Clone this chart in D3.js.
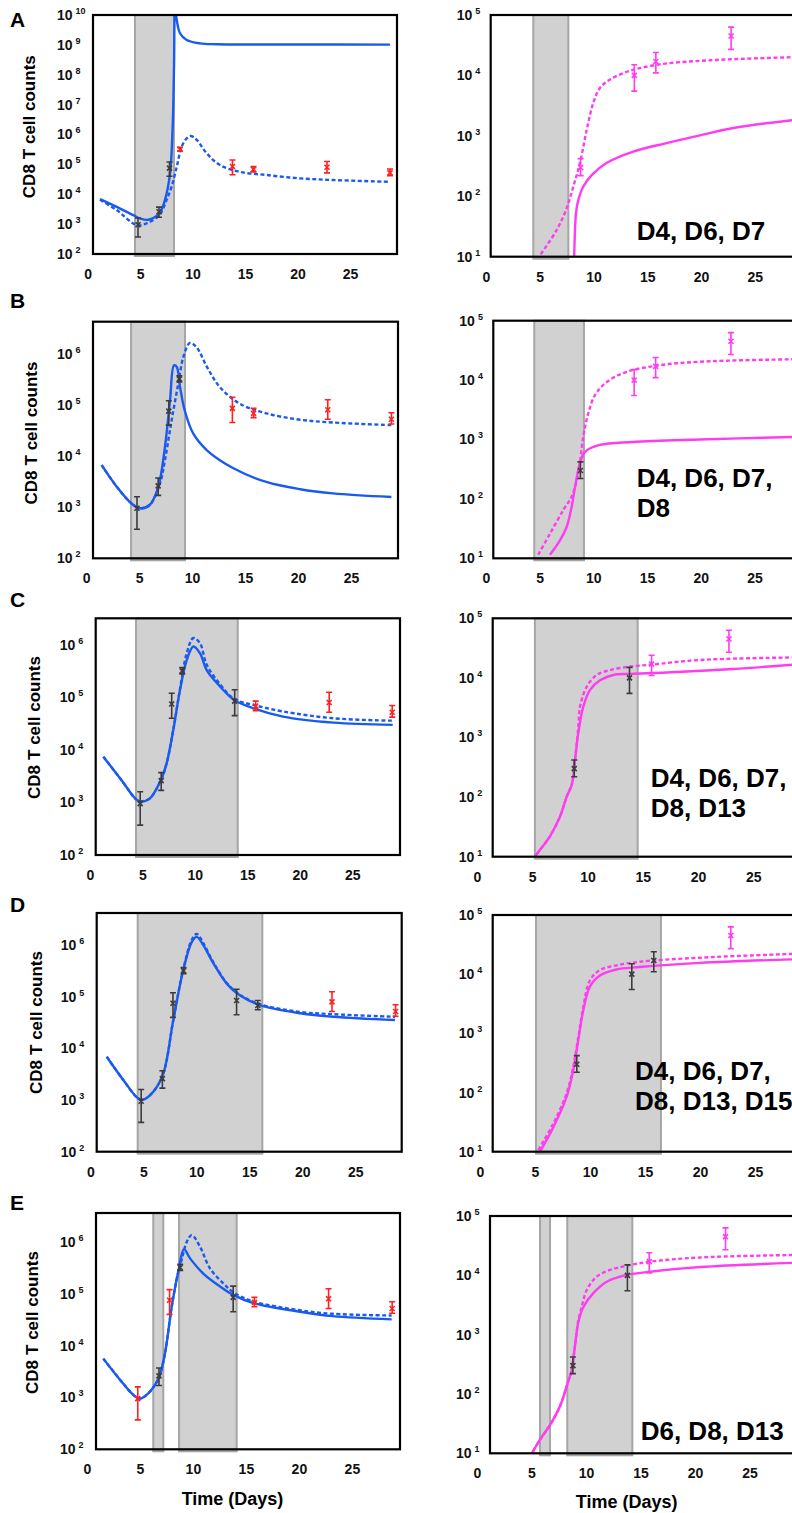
<!DOCTYPE html>
<html>
<head>
<meta charset="utf-8">
<script src="https://cdn.jsdelivr.net/npm/d3@7"></script>
<style>
  body { margin: 0; background: #fff; }
  text { font-family: "Liberation Sans", Arial, Helvetica, sans-serif; font-weight: bold; }
</style>
</head>
<body>
<div id="chart"></div>
<script>
// measured days and CD8 T cell counts (effector, left column)
const dayLabels = ['D4', 'D6', 'D7', 'D8', 'D13', 'D15', 'D22', 'D28'];
const dataDays = [4.8, 6.8, 7.8, 8.8, 13.8, 15.8, 22.8, 28.8];
const effMean = [950, 2600, 7.5e4, 3.2e5, 8.5e4, 6.8e4, 8e4, 5.2e4];
const effLow = [370, 1700, 4e4, 2.8e5, 4.5e4, 5.6e4, 5.2e4, 4.2e4];
const effHigh = [1600, 3700, 1.2e5, 3.7e5, 1.4e5, 8.5e4, 1.25e5, 7e4];

// memory cells (right column)
const memLabels = ['D8', 'D13', 'D15', 'D22'];
const memDays = [8.8, 13.8, 15.8, 22.8];
const memMean = [300, 1e4, 1.7e4, 4.5e4];
const memLow = [220, 5.5e3, 1.1e4, 2.7e4];
const memHigh = [420, 1.5e4, 2.4e4, 6.3e4];

// data used for fitting in each row
const fitA = ['D4', 'D6', 'D7'];
const fitB = ['D4', 'D6', 'D7', 'D8'];
const fitC = ['D4', 'D6', 'D7', 'D8', 'D13'];
const fitD = ['D4', 'D6', 'D7', 'D8', 'D13', 'D15'];
const fitE = ['D6', 'D8', 'D13'];

// shaded fitting windows (days)
const shadeLeft = { A: [[4.51, 8.23]], B: [[4.24, 9.33]], C: [[4.4, 14.09]], D: [[4.47, 16.23]], E: [[6.26, 7.21], [8.69, 14.13]] };
const shadeRight = { A: [[4.4, 7.66]], B: [[4.51, 9.13]], C: [[5.24, 14.54]], D: [[5.09, 16.45]], E: [[5.78, 6.7], [8.28, 14.25]] };

const xTicks = [0, 5, 10, 15, 20, 25];
const leftTicksA = [1e2, 1e3, 1e4, 1e5, 1e6, 1e7, 1e8, 1e9, 1e10];
const leftTicks = [1e2, 1e3, 1e4, 1e5, 1e6];
const rightTicks = [1e1, 1e2, 1e3, 1e4, 1e5];

// model curves [day, count]
const aLeftSolid = [[1.18, 6.9e3], [2.77, 3.8e3], [4.35, 2.0e3], [4.99, 1.55e3], [5.78, 1.4e3], [6.83, 2.3e3], [7.37, 6.5e3], [7.85, 5e4], [8.1, 1.8e6], [8.23, 1.9e8], [8.32, 2e10], [8.42, 1e10], [8.8, 2.45e9], [9.44, 1.45e9], [10.7, 1.12e9], [12.3, 1.05e9], [20, 1.03e9], [28.8, 1.02e9]];
const aLeftDashed = [[1.18, 6.5e3], [2.77, 2.95e3], [4.68, 930], [5.63, 1.07e3], [6.83, 2.0e3], [7.53, 6.5e3], [8.0, 1.8e4], [8.49, 8.3e4], [8.96, 3.9e5], [9.44, 7.4e5], [9.82, 8.9e5], [10.39, 6.6e5], [11.34, 2.35e5], [12.6, 9.5e4], [14.5, 5.6e4], [17.06, 4.4e4], [20.2, 3.4e4], [23.4, 3.0e4], [28.8, 2.6e4]];
const aRightSolid = [[8.15, 5], [8.2, 10], [8.37, 52], [8.59, 87], [9.05, 145], [9.83, 224], [11.2, 355], [13.7, 550], [16.8, 760], [19.9, 1020], [23.0, 1350], [28.5, 1820]];
const aRightDashed = [[5.09, 11], [6.57, 27.5], [7.5, 63], [8.12, 145], [8.74, 355], [9.37, 1.26e3], [9.98, 3.5e3], [10.6, 6.2e3], [11.5, 8.5e3], [12.8, 1.1e4], [14.3, 1.32e4], [16.8, 1.58e4], [19.9, 1.74e4], [23.0, 1.86e4], [28.5, 2.0e4]];

const bLeftSolid = [[1.47, 6.6e3], [2.89, 2.5e3], [4.3, 1.17e3], [5.09, 950], [6.0, 1.1e3], [6.81, 2.5e3], [7.44, 1.5e4], [7.92, 1.23e5], [8.29, 5.9e5], [8.55, 5.5e5], [8.86, 2.24e5], [9.3, 7.8e4], [10.1, 2.75e4], [11.4, 1.29e4], [13.9, 5.75e3], [17.0, 3.1e3], [20.2, 2.24e3], [23.3, 1.86e3], [28.8, 1.58e3]];
const bLeftDashed = [[1.47, 6.6e3], [2.89, 2.5e3], [4.3, 1.17e3], [5.09, 950], [6.0, 1.1e3], [6.97, 2.9e3], [7.44, 8.3e3], [8.07, 5e4], [8.7, 2.6e5], [9.17, 8.5e5], [9.8, 1.62e6], [10.4, 1.35e6], [11.4, 5.5e5], [12.6, 2.24e5], [14.5, 1.05e5], [17.0, 6.8e4], [20.2, 5.1e4], [23.3, 4.5e4], [28.8, 4.0e4]];
const bRightSolid = [[5.97, 11.5], [6.9, 20], [7.53, 34], [7.99, 74], [8.3, 158], [8.76, 400], [9.23, 620], [10.6, 810], [13.7, 910], [19.9, 1000], [28.5, 1100]];
const bRightDashed = [[4.88, 11.5], [5.97, 26], [7.21, 65], [7.99, 110], [8.6, 270], [9.07, 1.12e3], [9.53, 2.75e3], [10.16, 5.6e3], [11.25, 9.3e3], [13.1, 1.38e4], [16.2, 1.78e4], [19.9, 2.04e4], [28.5, 2.24e4]];

const cLeftSolid = [[1.29, 7.4e3], [2.88, 2.9e3], [4.47, 1.12e3], [4.94, 1.05e3], [5.73, 1.2e3], [6.78, 2.7e3], [7.32, 5.6e3], [7.95, 2.4e4], [8.59, 1.38e5], [9.23, 5.1e5], [9.86, 9.3e5], [10.5, 6.9e5], [11.13, 3.3e5], [12.4, 1.62e5], [13.76, 8.9e4], [15.57, 6.2e4], [18.4, 4.3e4], [23.2, 3.3e4], [28.85, 3.0e4]];
const cLeftDashed = [[1.29, 7.4e3], [2.88, 2.9e3], [4.47, 1.12e3], [4.94, 1.05e3], [5.73, 1.2e3], [6.78, 2.7e3], [7.32, 5.6e3], [7.95, 2.4e4], [8.59, 1.45e5], [9.23, 6.9e5], [9.86, 1.35e6], [10.5, 1.07e6], [11.13, 4.2e5], [12.4, 1.78e5], [13.76, 9.3e4], [15.57, 7.2e4], [18.4, 5.4e4], [23.2, 4.0e4], [28.85, 3.6e4]];
const cRightSolid = [[5.04, 9], [5.55, 12], [6.6, 22], [7.51, 47], [8.12, 102], [8.57, 160], [8.87, 420], [9.17, 1.2e3], [9.62, 3.3e3], [10.23, 6.3e3], [11.13, 9.1e3], [12.33, 1.12e4], [13.85, 1.17e4], [17.17, 1.23e4], [23.19, 1.41e4], [28.5, 1.66e4]];
const cRightDashed = [[5.04, 9], [5.55, 12], [6.6, 22], [7.51, 47], [8.12, 102], [8.57, 160], [8.87, 430], [9.17, 1.5e3], [9.32, 3.3e3], [9.93, 7.1e3], [10.83, 1.12e4], [12.03, 1.35e4], [13.85, 1.55e4], [15.66, 1.66e4], [20.18, 2.0e4], [28.5, 2.2e4]];

const dLeftSolid = [[1.55, 6.9e3], [3.11, 2.45e3], [4.53, 1.07e3], [5.0, 1.02e3], [5.94, 1.45e3], [6.89, 3.3e3], [7.83, 3.55e4], [8.77, 3.3e5], [9.57, 1.15e6], [10.04, 1.45e6], [10.66, 1.0e6], [11.6, 4.5e5], [12.87, 1.8e5], [14.1, 1.07e5], [16.0, 6.9e4], [19.8, 4.8e4], [22.9, 4.1e4], [28.75, 3.55e4]];
const dLeftDashed = [[1.55, 6.9e3], [3.11, 2.45e3], [4.53, 1.07e3], [5.0, 1.02e3], [5.94, 1.45e3], [6.89, 3.3e3], [7.83, 3.55e4], [8.77, 3.4e5], [9.57, 1.26e6], [10.04, 1.65e6], [10.66, 1.1e6], [11.6, 4.7e5], [12.87, 1.85e5], [14.1, 1.1e5], [16.0, 7.2e4], [19.8, 5.1e4], [22.9, 4.6e4], [28.75, 4.1e4]];
const dRightSolid = [[5.45, 10], [6.67, 26], [7.88, 85], [8.48, 240], [8.94, 780], [9.39, 2.45e3], [10.0, 6.2e3], [10.9, 9.5e3], [12.4, 1.2e4], [14.5, 1.32e4], [20.0, 1.55e4], [28.4, 1.78e4]];
const dRightDashed = [[5.3, 10.7], [6.67, 30], [7.88, 98], [8.48, 275], [8.94, 870], [9.39, 2.8e3], [10.0, 7.9e3], [10.9, 1.17e4], [12.4, 1.41e4], [14.5, 1.62e4], [20.0, 1.9e4], [28.4, 2.2e4]];

const eLeftSolid = [[1.55, 5.6e3], [3.12, 2.2e3], [4.38, 1.12e3], [5.0, 950], [5.79, 1.2e3], [6.42, 1.74e3], [6.83, 2.5e3], [7.37, 7.1e3], [8.0, 5.6e4], [8.63, 2.7e5], [9.16, 7.2e5], [9.73, 4.8e5], [10.98, 2.45e5], [12.56, 1.38e5], [13.8, 9.5e4], [15.7, 6.6e4], [20.1, 4.5e4], [23.2, 3.7e4], [28.75, 3.2e4]];
const eLeftDashed = [[1.55, 5.6e3], [3.12, 2.2e3], [4.38, 1.12e3], [5.0, 950], [5.79, 1.2e3], [6.42, 1.74e3], [6.83, 2.5e3], [7.37, 7.1e3], [8.0, 5.6e4], [8.63, 2.7e5], [8.94, 4.5e5], [9.42, 1.0e6], [9.89, 1.35e6], [10.67, 8.1e5], [11.6, 3.1e5], [12.87, 1.58e5], [13.8, 1.07e5], [15.7, 7.1e4], [20.1, 4.8e4], [23.2, 4.1e4], [28.75, 3.8e4]];
const eRightSolid = [[4.86, 8.8], [5.78, 17], [6.7, 30], [7.61, 62], [8.23, 135], [8.53, 200], [8.69, 250], [8.99, 650], [9.29, 1.6e3], [9.75, 2.9e3], [10.67, 5.0e3], [11.9, 7.8e3], [13.12, 9.5e3], [13.73, 1.02e4], [15.87, 1.15e4], [20.5, 1.38e4], [28.9, 1.62e4]];
const eRightDashed = [[4.86, 8.8], [5.78, 17], [6.7, 30], [7.61, 62], [8.23, 135], [8.53, 200], [8.69, 250], [8.99, 650], [9.29, 1.7e3], [9.61, 2.95e3], [10.06, 5.6e3], [10.98, 9.5e3], [12.2, 1.23e4], [13.73, 1.45e4], [15.87, 1.7e4], [20.5, 2.0e4], [28.9, 2.2e4]];

const rows = [
  { id: 'A', fit: fitA, letterY: 26.7, ylabX: 35, ylabY: 126.7,
    L: { x0: 87.6, k: 10.5, left: 93, right: 397, top: 15, bottom: 254, yMax: 1e10, ticks: leftTicksA, solid: aLeftSolid, dashed: aLeftDashed },
    R: { x0: 486, k: 10.75, left: 490.7, top: 15, bottom: 256.7, solid: aRightSolid, dashed: aRightDashed, noteX: 636.7, noteY: 240 } },
  { id: 'B', fit: fitB, letterY: 308, ylabX: 37, ylabY: 433,
    L: { x0: 86.1, k: 10.6, left: 93, right: 398, top: 321.7, bottom: 558.3, yMax: 4.2e6, ticks: leftTicks, solid: bLeftSolid, dashed: bLeftDashed },
    R: { x0: 485.8, k: 10.75, left: 493.3, top: 320.7, bottom: 558.3, solid: bRightSolid, dashed: bRightDashed, noteX: 636.7, noteY: 517 } },
  { id: 'C', fit: fitC, letterY: 607, ylabX: 40, ylabY: 727.5,
    L: { x0: 89.8, k: 10.5, left: 95.7, right: 400, top: 618.3, bottom: 855, yMax: 3.2e6, ticks: leftTicks, solid: cLeftSolid, dashed: cLeftDashed },
    R: { x0: 477, k: 11.05, left: 492.7, top: 618.3, bottom: 856.7, solid: cRightSolid, dashed: cRightDashed, noteX: 650.7, noteY: 816.7 } },
  { id: 'D', fit: fitD, letterY: 911.7, ylabX: 41.7, ylabY: 1022.5,
    L: { x0: 90.3, k: 10.6, left: 96.7, right: 401.7, top: 913, bottom: 1151.7, yMax: 4.2e6, ticks: leftTicks, solid: dLeftSolid, dashed: dLeftDashed },
    R: { x0: 480, k: 11, left: 492.7, top: 915, bottom: 1151.7, solid: dRightSolid, dashed: dRightDashed, noteX: 635, noteY: 1110 } },
  { id: 'E', fit: fitE, letterY: 1210, ylabX: 38.3, ylabY: 1322.5,
    L: { x0: 86.9, k: 10.6, left: 96, right: 400, top: 1213, bottom: 1449.3, yMax: 3.6e6, ticks: leftTicks, solid: eLeftSolid, dashed: eLeftDashed },
    R: { x0: 477, k: 10.9, left: 490, top: 1216, bottom: 1453.3, solid: eRightSolid, dashed: eRightDashed, noteX: 640.7, noteY: 1440 } },
];

const blue = '#1a5af0';
const magenta = '#ff3cf0';
const red = '#ff2020';
const fitColor = '#3c3c3c';
const font = '"Liberation Sans", Arial, Helvetica, sans-serif';

const svg = d3.select('#chart').append('svg')
  .attr('width', 792)
  .attr('height', 1513);

const effPoints = dayLabels.map((lab, i) => ({ lab, day: dataDays[i], mean: effMean[i], lo: effLow[i], hi: effHigh[i] }));
const memPoints = memLabels.map((lab, i) => ({ lab, day: memDays[i], mean: memMean[i], lo: memLow[i], hi: memHigh[i] }));

function drawPanel(row, side) {
  const p = row[side];
  const isLeft = side === 'L';
  const right = isLeft ? p.right : 810;
  const x = d3.scaleLinear().domain([0, 30]).range([p.x0, p.x0 + 30 * p.k]);
  const y = d3.scaleLog()
    .domain(isLeft ? [1e2, p.yMax] : [1e1, 1e5])
    .range([p.bottom, p.top]);
  const lineColor = isLeft ? blue : magenta;
  const g = svg.append('g');
  const clipId = `clip-${row.id}-${side}`;

  g.append('clipPath').attr('id', clipId)
    .append('rect')
    .attr('x', p.left)
    .attr('y', p.top)
    .attr('width', right - p.left)
    .attr('height', p.bottom - p.top);

  const shades = isLeft ? shadeLeft[row.id] : shadeRight[row.id];
  g.selectAll('.shade')
    .data(shades)
    .enter()
    .append('rect')
    .attr('class', 'shade')
    .attr('x', d => x(d[0]))
    .attr('width', d => x(d[1]) - x(d[0]))
    .attr('y', p.top)
    .attr('height', p.bottom - p.top + 2)
    .attr('fill', '#d1d1d1')
    .attr('stroke', '#a6a6a6')
    .attr('stroke-width', 2);

  const line = d3.line()
    .x(d => x(d[0]))
    .y(d => y(d[1]))
    .curve(d3.curveCatmullRom.alpha(0.5));

  const curves = g.append('g').attr('clip-path', `url(#${clipId})`);
  curves.append('path')
    .attr('d', line(p.dashed))
    .attr('fill', 'none')
    .attr('stroke', lineColor)
    .attr('stroke-width', 2.4)
    .attr('stroke-dasharray', '4,2.5');
  curves.append('path')
    .attr('d', line(p.solid))
    .attr('fill', 'none')
    .attr('stroke', lineColor)
    .attr('stroke-width', 2.4);

  // data with error bars
  const pts = isLeft ? effPoints : memPoints;
  const otherColor = isLeft ? red : magenta;
  const marks = g.append('g')
    .selectAll('g')
    .data(pts)
    .enter()
    .append('g')
    .attr('stroke', d => (row.fit.includes(d.lab) ? fitColor : otherColor))
    .attr('stroke-width', 1.6)
    .attr('fill', 'none');
  marks.append('path')
    .attr('d', (d) => {
      const cx = x(d.day);
      const y0 = y(d.lo);
      const y1 = y(d.hi);
      return `M${cx},${y0}V${y1}M${cx - 3},${y0}H${cx + 3}M${cx - 3},${y1}H${cx + 3}`;
    });
  marks.append('path')
    .attr('d', (d) => {
      const cx = x(d.day);
      const cy = y(d.mean);
      return `M${cx - 2.5},${cy - 2.5}L${cx + 2.5},${cy + 2.5}M${cx - 2.5},${cy + 2.5}L${cx + 2.5},${cy - 2.5}`;
    });

  // frame
  g.append('rect')
    .attr('x', p.left)
    .attr('y', p.top)
    .attr('width', right - p.left)
    .attr('height', p.bottom - p.top)
    .attr('fill', 'none')
    .attr('stroke', '#000')
    .attr('stroke-width', 2.2);

  g.append('g')
    .attr('transform', `translate(0,${p.bottom})`)
    .call(d3.axisBottom(x).tickValues(xTicks).tickSize(0).tickPadding(15))
    .call(a => a.select('.domain').remove())
    .attr('font-family', font)
    .attr('font-size', 14)
    .selectAll('text')
    .attr('fill', '#111');

  const yAxis = g.append('g')
    .attr('transform', `translate(${p.left},0)`)
    .call(d3.axisLeft(y).tickValues(isLeft ? p.ticks : rightTicks).tickSize(0).tickFormat(() => ''))
    .call(a => a.select('.domain').remove())
    .attr('font-family', font)
    .attr('font-size', 14);
  yAxis.selectAll('.tick text')
    .attr('x', isLeft ? -36 : -34)
    .attr('text-anchor', 'start')
    .attr('fill', '#111')
    .each(function (d) {
      const t = d3.select(this);
      t.append('tspan').text('10');
      t.append('tspan')
        .attr('font-size', 9)
        .attr('dx', 3)
        .attr('dy', -6)
        .text(Math.round(Math.log10(d)));
    });

  if (!isLeft) {
    const lines = row.fit.length > 3
      ? [`${row.fit.slice(0, 3).join(', ')},`, row.fit.slice(3).join(', ')]
      : [row.fit.join(', ')];
    const note = g.append('text')
      .attr('x', p.noteX)
      .attr('y', p.noteY - (lines.length - 1) * 30)
      .attr('font-size', 26)
      .attr('fill', '#000');
    lines.forEach((l, i) => {
      note.append('tspan')
        .attr('x', p.noteX)
        .attr('dy', i === 0 ? 0 : 30)
        .text(l);
    });
  }
}

rows.forEach((row) => {
  drawPanel(row, 'L');
  drawPanel(row, 'R');

  svg.append('text')
    .attr('x', 10)
    .attr('y', row.letterY)
    .attr('font-size', 21)
    .text(row.id);

  const ylab = svg.append('text')
    .attr('transform', `translate(${row.ylabX},${row.ylabY}) rotate(-90)`)
    .attr('text-anchor', 'middle')
    .attr('font-size', 17)
    .text('CD8');
  ylab.append('tspan').attr('dx', 5).text('T cell counts');
});

svg.append('text')
  .attr('x', 232.5)
  .attr('y', 1505)
  .attr('text-anchor', 'middle')
  .attr('font-size', 18)
  .text('Time (Days)');

svg.append('text')
  .attr('x', 626.7)
  .attr('y', 1508)
  .attr('text-anchor', 'middle')
  .attr('font-size', 18)
  .text('Time (Days)');
</script>
</body>
</html>
